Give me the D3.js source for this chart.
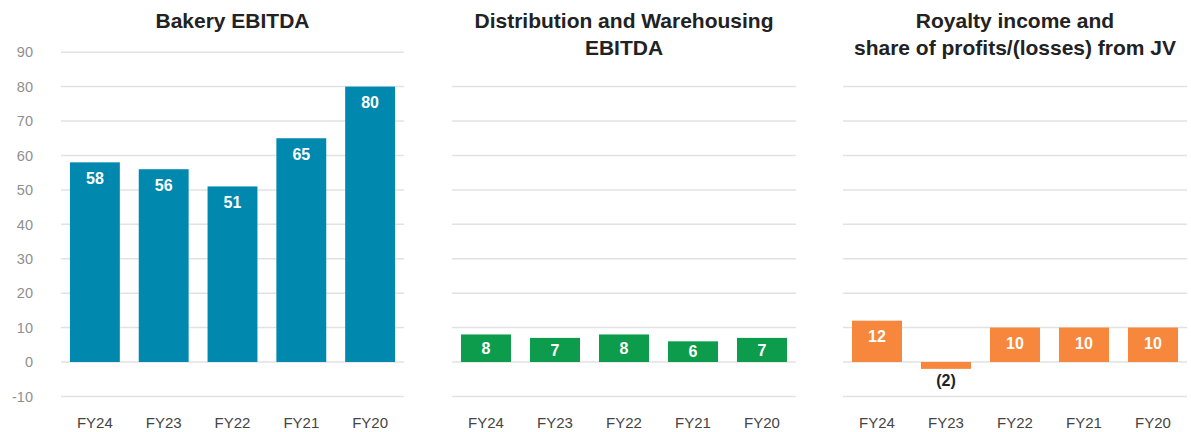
<!DOCTYPE html>
<html>
<head>
<meta charset="utf-8">
<script src="https://cdn.jsdelivr.net/npm/d3@7"></script>
<style>
  body { margin: 0; background: #fff; }
  svg { display: block; font-family: "Liberation Sans", Arial, sans-serif; }
</style>
</head>
<body>
<div id="chart"></div>
<script>
// categories and values
var years = ["FY24", "FY23", "FY22", "FY21", "FY20"];
var bakery = [58, 56, 51, 65, 80];
var distribution = [8, 7, 8, 6, 7];
var royalty = [12, -2, 10, 10, 10];
var ticksFull = [-10, 0, 10, 20, 30, 40, 50, 60, 70, 80, 90];
var ticksShort = [-10, 0, 10, 20, 30, 40, 50, 60, 70, 80];

var W = 1191, H = 432;
var svg = d3.select("#chart").append("svg")
    .attr("width", W).attr("height", H);

// shared vertical scale
var y = d3.scaleLinear().domain([-10, 90]).range([396.4, 52.2]);

var panels = [
  { title: ["Bakery EBITDA"], data: bakery, color: "#0088ae", x0: 61, x1: 404, ticks: ticksFull, labels: true },
  { title: ["Distribution and Warehousing", "EBITDA"], data: distribution, color: "#0c9c4b", x0: 452, x1: 796, ticks: ticksShort, labels: false },
  { title: ["Royalty income and", "share of profits/(losses) from JV"], data: royalty, color: "#f6873d", x0: 843, x1: 1187, ticks: ticksShort, labels: false }
];

panels.forEach(function(p) {
  var g = svg.append("g");
  var x = d3.scaleBand().domain(years).range([p.x0, p.x1])
      .paddingInner(0.275).paddingOuter(0.13);

  // gridlines
  g.selectAll(".grid").data(p.ticks).enter().append("line")
      .attr("x1", p.x0).attr("x2", p.x1)
      .attr("y1", function(d) { return y(d); })
      .attr("y2", function(d) { return y(d); })
      .attr("stroke", "#e2e2e2").attr("stroke-width", 1.5);

  // y tick labels (first panel only)
  if (p.labels) {
    g.selectAll(".tick").data(p.ticks).enter().append("text")
        .attr("x", 33).attr("y", function(d) { return y(d); })
        .attr("dy", "0.36em")
        .attr("text-anchor", "end")
        .attr("fill", "#8f8f8f")
        .style("font-size", "14.5px")
        .text(function(d) { return d; });
  }

  // title
  g.append("text")
      .attr("x", (p.x0 + p.x1) / 2)
      .attr("text-anchor", "middle")
      .attr("fill", "#222")
      .style("font-size", "21px").style("font-weight", "bold")
      .selectAll("tspan").data(p.title).enter().append("tspan")
      .attr("x", (p.x0 + p.x1) / 2)
      .attr("y", function(d, i) { return 28 + i * 27; })
      .text(function(d) { return d; });

  // bars
  g.selectAll(".bar").data(p.data).enter().append("rect")
      .attr("x", function(d, i) { return x(years[i]); })
      .attr("width", x.bandwidth())
      .attr("y", function(d) { return y(Math.max(0, d)); })
      .attr("height", function(d) { return Math.abs(y(d) - y(0)); })
      .attr("fill", p.color);

  // value labels
  g.selectAll(".val").data(p.data).enter().append("text")
      .attr("x", function(d, i) { return x(years[i]) + x.bandwidth() / 2; })
      .attr("y", function(d) {
        if (d < 0) return y(d) + 11;
        var h = y(0) - y(d);
        return y(d) + Math.min(h / 2, 16);
      })
      .attr("dy", "0.36em")
      .attr("text-anchor", "middle")
      .attr("fill", function(d) { return d < 0 ? "#222" : "#fff"; })
      .style("font-size", "16px").style("font-weight", "bold")
      .text(function(d) { return d < 0 ? "(" + Math.abs(d) + ")" : d; });

  // category labels
  g.selectAll(".cat").data(years).enter().append("text")
      .attr("x", function(d) { return x(d) + x.bandwidth() / 2; })
      .attr("y", 428)
      .attr("text-anchor", "middle")
      .attr("fill", "#444")
      .style("font-size", "15px")
      .text(function(d) { return d; });
});
</script>
</body>
</html>
